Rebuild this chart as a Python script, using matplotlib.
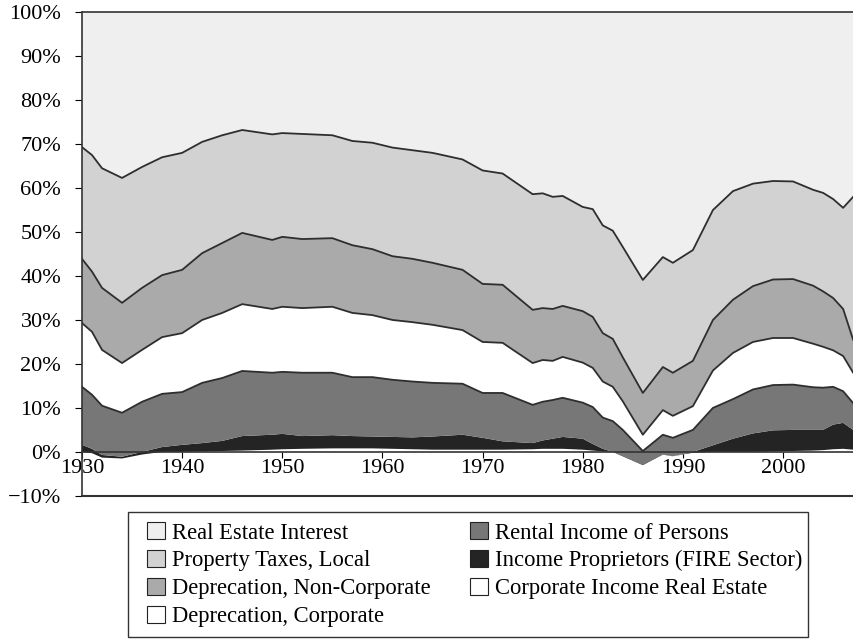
import matplotlib.pyplot as plt
import numpy as np
from matplotlib.patches import Patch, Rectangle

plt.rcParams['font.family'] = ['Liberation Serif', 'DejaVu Serif']

years = [1930, 1931, 1932, 1934, 1936, 1938, 1940, 1942, 1944, 1946,
         1949, 1950, 1952, 1955, 1957, 1959, 1961, 1963, 1965, 1968,
         1970, 1972, 1975, 1976, 1977, 1978, 1980, 1981, 1982, 1983,
         1984, 1986, 1988, 1989, 1991, 1993, 1995, 1997, 1999, 2001,
         2003, 2004, 2005, 2006, 2007]

# shares of total (percent), bottom of the stack first
corporate_income = [0.0, -0.3, -1.3, -1.5, -0.6, 0.0, 0.0, 0.1, 0.2, 0.3,
                    0.5, 0.6, 0.7, 0.8, 0.8, 0.8, 0.7, 0.6, 0.5, 0.5,
                    0.5, 0.5, 0.6, 0.7, 0.7, 0.7, 0.5, 0.3, 0.1, 0.0,
                    -0.6, -2.6, -0.5, -1.0, -0.2, 0.0, 0.0, 0.0, 0.1, 0.2,
                    0.3, 0.4, 0.6, 0.7, 0.5]
proprietors = [1.6, 1.0, 0.6, 0.4, 0.6, 1.1, 1.6, 1.9, 2.3, 3.3,
               3.4, 3.5, 2.9, 3.0, 2.8, 2.7, 2.7, 2.7, 3.0, 3.4,
               2.7, 1.9, 1.4, 1.9, 2.3, 2.7, 2.5, 1.5, 0.6, 0.0,
               -0.4, -0.4, -0.1, 0.0, 0.2, 1.5, 3.0, 4.2, 4.8, 4.8,
               4.7, 4.6, 5.6, 5.9, 4.5]
rental_income = [13.2, 12.3, 11.2, 10.0, 11.4, 12.1, 12.0, 13.7, 14.3, 14.8,
                 14.1, 14.1, 14.4, 14.2, 13.4, 13.5, 13.0, 12.7, 12.2, 11.6,
                 10.2, 11.0, 8.7, 8.8, 8.8, 8.9, 8.2, 8.4, 7.1, 7.0,
                 6.0, 3.2, 4.5, 4.2, 5.0, 8.5, 9.0, 10.0, 10.3, 10.3,
                 9.7, 9.6, 8.6, 7.2, 6.1]
depr_corporate = [14.5, 14.3, 12.7, 11.3, 11.8, 12.9, 13.4, 14.3, 14.8, 15.2,
                  14.5, 14.8, 14.7, 15.0, 14.6, 14.1, 13.6, 13.5, 13.2, 12.2,
                  11.6, 11.4, 9.5, 9.5, 8.9, 9.3, 9.1, 8.9, 8.2, 7.8,
                  6.5, 3.7, 5.6, 5.0, 5.4, 8.5, 10.5, 10.8, 10.7, 10.6,
                  9.9, 9.3, 8.3, 8.0, 6.9]
depr_noncorporate = [14.6, 13.7, 14.1, 13.7, 14.1, 14.1, 14.4, 15.2, 15.9, 16.2,
                     15.7, 15.9, 15.7, 15.6, 15.4, 15.0, 14.5, 14.4, 14.1, 13.7,
                     13.2, 13.2, 12.1, 11.8, 11.8, 11.6, 11.7, 11.6, 11.0, 10.9,
                     10.0, 9.5, 9.8, 9.8, 10.3, 11.5, 12.1, 12.7, 13.3, 13.4,
                     13.2, 12.6, 11.9, 10.7, 7.5]
property_taxes = [25.4, 26.5, 27.2, 28.4, 27.5, 26.8, 26.6, 25.3, 24.5, 23.4,
                  24.0, 23.6, 23.9, 23.4, 23.7, 24.2, 24.7, 24.7, 25.0, 25.1,
                  25.8, 25.3, 26.3, 26.1, 25.5, 25.0, 23.7, 24.5, 24.5, 24.6,
                  25.1, 25.7, 25.0, 25.0, 25.2, 25.0, 24.7, 23.3, 22.4, 22.2,
                  21.8, 22.4, 22.5, 23.0, 32.5]
interest = [30.7, 32.5, 35.5, 37.7, 35.2, 33.0, 32.0, 29.5, 28.0, 26.8,
            27.8, 27.5, 27.7, 28.0, 29.3, 29.7, 30.8, 31.4, 32.0, 33.5,
            36.0, 36.7, 41.4, 41.2, 42.0, 41.8, 44.3, 44.8, 48.5, 49.7,
            53.4, 60.9, 55.7, 57.0, 54.1, 45.0, 40.7, 39.0, 38.4, 38.5,
            40.4, 41.1, 42.5, 44.5, 42.0]

series = [corporate_income, proprietors, rental_income, depr_corporate,
          depr_noncorporate, property_taxes, interest]
labels = ['Corporate Income Real Estate', 'Income Proprietors (FIRE Sector)',
          'Rental Income of Persons', 'Deprecation, Corporate',
          'Deprecation, Non-Corporate', 'Property Taxes, Local',
          'Real Estate Interest']
colors = ['#ffffff', '#242424', '#777777', '#ffffff', '#aaaaaa', '#d2d2d2', '#efefef']
outlined = [False, False, True, True, True, True, False]

fig = plt.figure(figsize=(8.54, 6.39), dpi=100)
ax = fig.add_axes([0.096, 0.224, 0.903, 0.757])

x = np.array(years)
lower = np.zeros(len(years))
for vals, col, edge in zip(series, colors, outlined):
    upper = lower + np.array(vals)
    ax.fill_between(x, lower, upper, facecolor=col, linewidth=0, zorder=2)
    if edge:
        ax.plot(x, upper, color='#2e2e2e', lw=1.3, zorder=3)
    lower = upper

ax.set_xlim(1930, 2007)
ax.set_ylim(-10, 100)
ax.set_yticks(np.arange(-10, 101, 10))
ax.set_yticklabels([f'{v}%'.replace('-', '\u2212') for v in range(-10, 101, 10)],
                   fontsize=16)
ax.set_xticks(np.arange(1930, 2001, 10))
ax.tick_params(axis='x', labelsize=16, length=4, pad=1, direction='out')
ax.tick_params(axis='y', length=5, pad=10, direction='out')

ax.spines['bottom'].set_position(('data', 0))
ax.spines['right'].set_visible(False)
for s in ax.spines.values():
    s.set_color('#333333')
    s.set_linewidth(1.2)
    s.set_zorder(4)
ax.plot([0, 1], [0, 0], transform=ax.transAxes, color='#333333', lw=1.5, clip_on=False)

# legend box drawn separately so the margins match the original
W, H = 854, 639
fig.patches.append(Rectangle((128 / W, 1 - 637 / H), 680 / W, 125 / H,
                             transform=fig.transFigure, facecolor='white',
                             edgecolor='#333333', linewidth=1.0))
order = [6, 5, 4, 3, 2, 1, 0]
handles = [Patch(facecolor=colors[i], edgecolor='#222222', linewidth=0.8) for i in order]
fig.legend(handles, [labels[i] for i in order], ncol=2,
           loc='upper left', bbox_to_anchor=(147 / W, 1 - 522 / H),
           fontsize=16.3, frameon=False, handlelength=0.8, handleheight=0.8,
           handletextpad=0.3, labelspacing=0.28, borderpad=0,
           columnspacing=1.75, borderaxespad=0)

fig.savefig('out.png', dpi=100)
